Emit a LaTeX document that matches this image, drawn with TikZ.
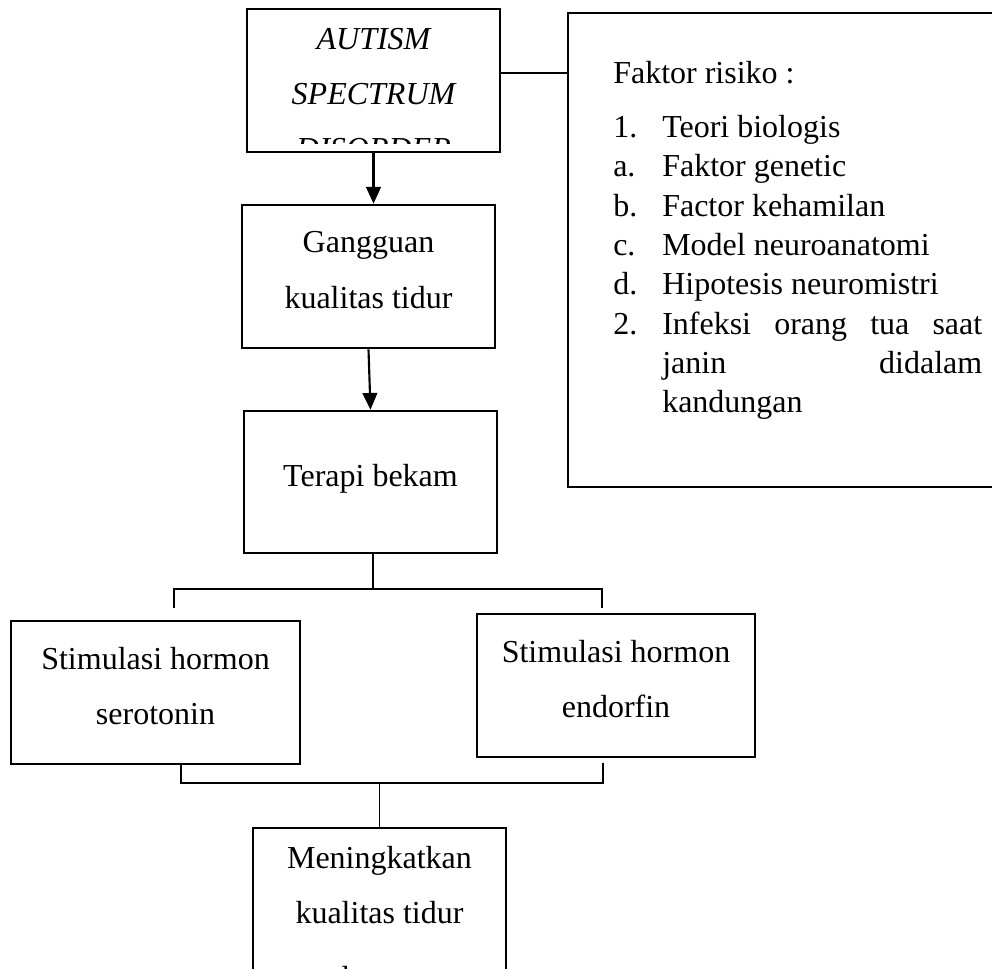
\documentclass[tikz,border=0pt]{standalone}
\usepackage{fontspec}
\setmainfont{Liberation Serif}
\usepackage{tikz}
\usetikzlibrary{arrows.meta,positioning,calc}
\newcommand{\boxfont}{\fontsize{24}{41.5}\selectfont}
\newcommand{\riskfont}{\fontsize{24}{29.5}\selectfont}
\newcommand{\riskitem}[2]{\par\noindent\hangindent=36.75pt\hangafter=1
  \makebox[36.75pt][l]{#1}#2\par}
\tikzset{
  flowbox/.style={rectangle,draw=black,line width=2pt,inner sep=0pt,
    font=\boxfont,align=center,minimum width=189.75pt,minimum height=107.25pt,
    execute at end node={\rule[-10pt]{0pt}{10pt}}},
  plain/.style={inner sep=0pt},
  arrow/.style={-{Triangle[length=12.5pt,width=11pt]},line width=1.6pt},
  link/.style={line width=0.9pt}
}

\begin{document}
\begin{tikzpicture}[x=0.75pt,y=-0.75pt]
\useasboundingbox (0,0) rectangle (992,969);
\clip (0,0) rectangle (992,969);

% Main column of the flow.
\node[flowbox] (asd) at (373.5,80.5) {};
\node[flowbox] (sleep) at (368.5,276.5) {Gangguan\\kualitas tidur};
\node[flowbox,minimum height=106.5pt] (cupping) at (370.5,482) {Terapi bekam};

% The two hormone boxes.
\node[flowbox,minimum width=216.75pt] (sero) at (155.5,692.5)
  {Stimulasi hormon\\serotonin};
\node[flowbox,minimum width=208.5pt] (endo) at (616,685.5)
  {Stimulasi hormon\\endorfin};

% Result box, cut off by the lower edge of the page.
\node[flowbox,minimum height=143.5pt] (better) at (379.5,923.7)
  {Meningkatkan\\kualitas tidur\\[7pt]dengan};

% Risk factors; the right side of the box runs off the page.
\node[draw=black,line width=2pt,minimum width=324pt,minimum height=355.5pt]
  (risk) at (784,250) {};
\node[plain,anchor=north west,font=\riskfont,text width=276.75pt,
  align=justify] (risktext) at (613,61) {%
\noindent Faktor risiko :\par\vspace{11pt}
\riskitem{1.}{Teori biologis}
\riskitem{a.}{Faktor genetic}
\riskitem{b.}{Factor kehamilan}
\riskitem{c.}{Model neuroanatomi}
\riskitem{d.}{Hipotesis neuromistri}
\riskitem{2.}{Infeksi orang tua saat\linebreak janin didalam\linebreak kandungan}
};

% Title of the first box; its last line is clipped inside the box.
\begin{scope}
  \clip (asd.north west) rectangle ([yshift=7.1pt]asd.south east);
  \node[plain,font=\boxfont\itshape,align=center,anchor=north] (asdtext)
    at (373.5,27.8) {AUTISM\\SPECTRUM\\DISORDER};
\end{scope}

\draw[link] ([yshift=5.625pt]asd.east) -- ([yshift=5.625pt]asd.east -| risk.west);
\draw[arrow] (asd.south) -- (asd.south |- sleep.north);
\draw[arrow] (sleep.south) -- (cupping.north);

% Split towards the hormone boxes.
\coordinate (split) at (373,589);
\coordinate (splitL) at (174,589);
\coordinate (splitR) at (602,589);
\coordinate (toSero) at (174,608);
\coordinate (toEndo) at (602,608);
\draw[link] (cupping.south -| split) -- (split);
\draw[link] (toSero) -- (splitL) -- (splitR) -- (toEndo);

% Join towards the result box.
\coordinate (join) at (379.5,783);
\coordinate (joinL) at (181,783);
\coordinate (joinR) at (603,783);
\coordinate (fromEndo) at (603,763);
\draw[link] (sero.south -| joinL) -- (joinL) -- (joinR) -- (fromEndo);
\draw[link] (join) -- (better.north);
\end{tikzpicture}
\end{document}
